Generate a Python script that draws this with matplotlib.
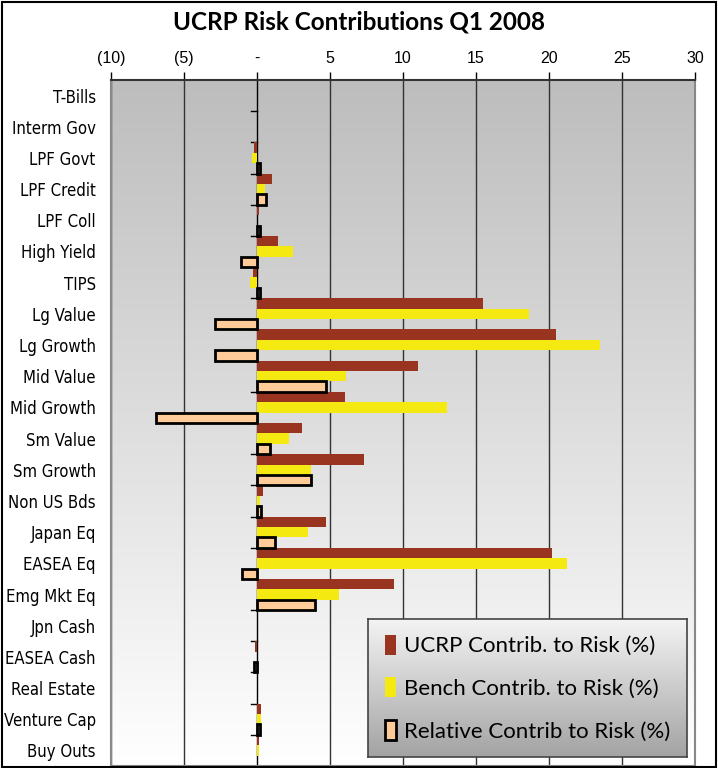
import numpy as np
import matplotlib.pyplot as plt
from matplotlib.patches import Rectangle
from matplotlib.colors import LinearSegmentedColormap

categories = ['T-Bills', 'Interm Gov', 'LPF Govt', 'LPF Credit', 'LPF Coll', 'High Yield',
              'TIPS', 'Lg Value', 'Lg Growth', 'Mid Value', 'Mid Growth', 'Sm Value',
              'Sm Growth', 'Non US Bds', 'Japan Eq', 'EASEA Eq', 'Emg Mkt Eq', 'Jpn Cash',
              'EASEA Cash', 'Real Estate', 'Venture Cap', 'Buy Outs']
ucrp = [0.0, 0.0, -0.18, 1.04, 0.14, 1.43, -0.3, 15.5, 20.5, 11.0, 6.0, 3.1,
        7.35, 0.4, 4.7, 20.2, 9.4, 0.0, -0.15, 0.0, 0.3, 0.15]
bench = [0.0, 0.0, -0.34, 0.57, 0.0, 2.47, -0.45, 18.6, 23.5, 6.1, 13.0, 2.2,
         3.7, 0.2, 3.5, 21.2, 5.6, 0.0, 0.0, 0.0, 0.25, 0.15]
relative = [0.0, 0.0, 0.18, 0.6, 0.18, -1.07, 0.18, -2.9, -2.9, 4.7, -6.9, 0.9,
            3.7, 0.3, 1.2, -1.0, 4.0, 0.0, -0.2, 0.0, 0.2, 0.0]
xticks = [-10, -5, 0, 5, 10, 15, 20, 25, 30]
xtick_labels = ['(10)', '(5)', '-', '5', '10', '15', '20', '25', '30']

fig = plt.figure(figsize=(7.18, 7.68), dpi=100)
ax = fig.add_axes([111 / 718, 2 / 768, 584 / 718, 686 / 768])

n = len(categories)
y = np.arange(n)
h = 1 / 3

# gradient background
grad = np.linspace(0, 1, 256).reshape(-1, 1)
ax.imshow(grad, cmap=LinearSegmentedColormap.from_list('bg', ['#bdbdbd', '#ffffff']),
          aspect='auto', extent=[-10, 30, n - 0.5, -0.5], zorder=0)

for t in xticks:
    ax.axvline(t, color='#333333' if t != 0 else 'black', lw=1.0, zorder=1)

ax.barh(y - h, ucrp, height=h, color='#993421', zorder=3, label='UCRP Contrib. to Risk (%)')
ax.barh(y, bench, height=h, color='#f4ea12', zorder=3, label='Bench Contrib. to Risk (%)')
rel_lw = [2 if v != 0 else 0 for v in relative]
ax.barh(y + h, relative, height=h, color='#ffcc99', edgecolor='black', linewidth=rel_lw,
        zorder=3, label='Relative Contrib to Risk (%)')

# category boundary ticks on the zero line
for b in np.arange(n - 1) + 0.5:
    ax.plot([-0.4, 0], [b, b], color='black', lw=1, zorder=2)

ax.set_xlim(-10, 30)
ax.set_ylim(n - 0.5, -0.5)
ax.xaxis.tick_top()
ax.set_xticks(xticks)
ax.set_xticklabels(xtick_labels, fontsize=11.5, family='Liberation Sans')
ax.tick_params(axis='x', length=6, width=1, pad=4)
ax.set_yticks(y)
ax.set_yticklabels(categories, fontsize=12, family='DejaVu Sans', fontstretch='condensed')
ax.tick_params(axis='y', length=0, pad=11)
for s in ax.spines.values():
    s.set_color('#888888')
    s.set_linewidth(1.5)
ax.spines['top'].set_color('#333333')

# legend with gradient box
lax = ax.inset_axes([0.44, 0.013, 0.546, 0.201], zorder=4)
lax.imshow(grad, cmap=LinearSegmentedColormap.from_list('lg', ['#f4f4f4', '#a3a3a3']),
           aspect='auto', extent=[0, 1, 0, 1])
lax.set_xticks([])
lax.set_yticks([])
for s in lax.spines.values():
    s.set_color('#444444')
    s.set_linewidth(1.2)
leg = ax.legend(loc='center', bbox_to_anchor=(0.713, 0.1135), frameon=False,
                prop={'family': 'Lato', 'size': 16}, handlelength=0.5, handleheight=1.0,
                handletextpad=0.35, labelspacing=0.95, borderaxespad=0, borderpad=0)
leg.set_zorder(5)
leg.legend_handles[2].set_linewidth(2)

fig.text(0.5, 1 - 22 / 768, 'UCRP Risk Contributions Q1 2008', ha='center', va='center',
         fontsize=17.5, fontweight='bold', family='Lato')

fig.patches.append(Rectangle((2 / 718, 1 / 768), 714 / 718, 765 / 768, transform=fig.transFigure,
                             fill=False, edgecolor='black', lw=1.5))

fig.savefig('out.png', dpi=100)
